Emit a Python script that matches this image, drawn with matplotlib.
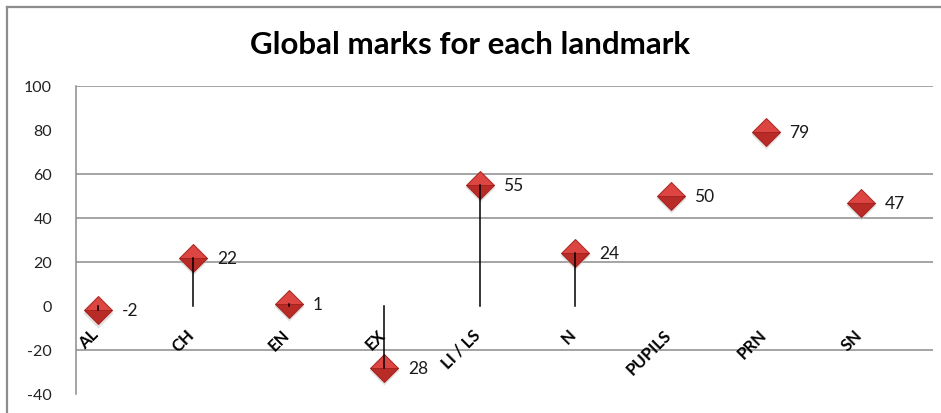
import matplotlib
matplotlib.use('Agg')
import matplotlib.pyplot as plt
from matplotlib.lines import Line2D

# data
landmarks = ['AL', 'CH', 'EN', 'EX', 'LI / LS', 'N', 'PUPILS', 'PRN', 'SN']
marks = [-2, 22, 1, -28, 55, 24, 50, 79, 47]
mark_labels = ['-2', '22', '1', '28', '55', '24', '50', '79', '47']
drop_line_count = 6  # only the first six points have a line from zero
y_ticks = [-40, -20, 0, 20, 40, 60, 80, 100]
grid_values = [-20, 20, 40, 60, 100]

plt.rcParams['font.family'] = ['Lato', 'DejaVu Sans']

W, H = 941, 414
fig = plt.figure(figsize=(W / 100, H / 100), dpi=100)
ax = fig.add_axes([75.7 / W, 1 - 395 / H, (933 - 75.7) / W, (395 - 87) / H])

x = list(range(len(landmarks)))

# grid lines (the chart has no line at 0 or 80)
for g in grid_values:
    ax.axhline(g, color='#8c8c8c', lw=1.1, zorder=1)

# drop lines from zero
for i in range(drop_line_count):
    ax.plot([x[i], x[i]], [0, marks[i]], color='black', lw=1.1, zorder=4)

# diamond markers: soft shadow, then a two-tone diamond
ax.plot(x, [m - 1.0 for m in marks], linestyle='none', marker='D', markersize=15.5,
        markerfacecolor='#bdbdbd', markeredgecolor='none', alpha=0.45, zorder=2)
ax.plot(x, marks, linestyle='none', marker='D', markersize=14.5, fillstyle='top',
        markerfacecolor='#dc4541', markerfacecoloralt='#b92b27',
        markeredgecolor='#a52420', markeredgewidth=0.7, zorder=3)

# value labels
for xi, m, lab in zip(x, marks, mark_labels):
    ax.annotate(lab, (xi, m), xytext=(17, 0), textcoords='offset points',
                ha='left', va='center', fontsize=12.5, color='#1a1a1a', zorder=5)

# category labels, drawn below the zero level
for xi, name in zip(x, landmarks):
    ax.text(xi + 0.04, -9, name, rotation=45, ha='right', va='top',
            fontsize=12, fontweight='bold', color='black', zorder=5)

ax.set_xlim(-0.234, 8.75)
ax.set_ylim(-40, 100)
ax.set_yticks(y_ticks)
ax.set_yticklabels([str(v) for v in y_ticks], fontsize=11.5, color='#222222')
ax.tick_params(axis='y', length=0, pad=17)
ax.set_xticks([])
for side in ['top', 'right', 'bottom']:
    ax.spines[side].set_visible(False)
ax.spines['left'].set_color('#8c8c8c')
ax.spines['left'].set_linewidth(1.1)

fig.text(0.5, 1 - 45 / H, 'Global marks for each landmark', ha='center', va='center',
         fontsize=22.5, fontweight='bold', color='black')

# outer chart border (top and left visible)
fig.add_artist(Line2D([7 / W, 1], [1 - 8 / H, 1 - 8 / H], color='#8c8c8c', lw=1.6,
                      transform=fig.transFigure))
fig.add_artist(Line2D([7 / W, 7 / W], [0, 1 - 8 / H], color='#8c8c8c', lw=1.6,
                      transform=fig.transFigure))

fig.savefig('out.png', dpi=100)
